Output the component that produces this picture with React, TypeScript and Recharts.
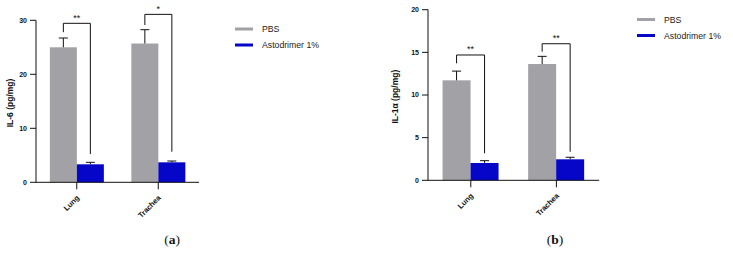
import React from 'react';
import { ComposedChart, Bar, XAxis, YAxis } from 'recharts';

const categories = ['Lung', 'Trachea'];
const seriesNames = ['PBS', 'Astodrimer 1%'];

const il6Pbs = [25.0, 25.7];
const il6PbsErr = [1.72, 2.56];
const il6Ast = [3.33, 3.7];
const il6AstErr = [0.37, 0.24];
const il6BracketTop = [29.44, 31.1];
const il6BracketLeft = [27.8, 29.13];
const il6BracketRight = [5.24, 5.67];
const il6Stars = ['**', '*'];
const il6Ticks = [0, 10, 20, 30];

const il1Pbs = [11.72, 13.63];
const il1PbsErr = [1.08, 0.9];
const il1Ast = [2.03, 2.46];
const il1AstErr = [0.27, 0.24];
const il1BracketTop = [14.69, 16.01];
const il1BracketLeft = [13.72, 15.08];
const il1BracketRight = [3.17, 3.35];
const il1Stars = ['**', '**'];
const il1Ticks = [0, 5, 10, 15, 20];

const GRAY = '#A2A2A6';
const BLUE = '#0606C8';
const FONT = '"Liberation Sans", Arial, sans-serif';

function buildData(pbs, pbsErr, ast, astErr, top, left, right, stars) {
  return categories.map((c, i) => ({
    name: c,
    pbs: pbs[i],
    pbsErr: pbsErr[i],
    ast: ast[i],
    astErr: astErr[i],
    bTop: top[i],
    bLeft: left[i],
    bRight: right[i],
    star: stars[i],
  }));
}

const dataA = buildData(il6Pbs, il6PbsErr, il6Ast, il6AstErr, il6BracketTop, il6BracketLeft, il6BracketRight, il6Stars);
const dataB = buildData(il1Pbs, il1PbsErr, il1Ast, il1AstErr, il1BracketTop, il1BracketLeft, il1BracketRight, il1Stars);

function makeShape(valKey, errKey, withBracket) {
  return (props) => {
    const { x, y, width, height, fill, payload } = props;
    const v = payload[valKey];
    const scale = v ? height / v : 0;
    const y0 = y + height;
    const py = (val) => y0 - val * scale;
    const cx = x + width / 2;
    const errTop = py(v + payload[errKey]);
    const els = [
      <rect key="r" x={x} y={y} width={width} height={height} fill={fill} />,
      <line key="e" x1={cx} x2={cx} y1={y} y2={errTop} stroke="#111" strokeWidth={1} />,
      <line key="c" x1={cx - 4.5} x2={cx + 4.5} y1={errTop} y2={errTop} stroke="#111" strokeWidth={1} />,
    ];
    if (withBracket) {
      const lx = x - width / 2;
      const rx = cx;
      const t = py(payload.bTop);
      els.push(
        <polyline
          key="b"
          points={`${lx},${py(payload.bLeft)} ${lx},${t} ${rx},${t} ${rx},${py(payload.bRight)}`}
          fill="none"
          stroke="#111"
          strokeWidth={1}
        />,
        <text key="s" x={(lx + rx) / 2} y={t - 2.5} textAnchor="middle" fontSize={9} fontFamily={FONT} fill="#111">
          {payload.star}
        </text>
      );
    }
    return <g>{els}</g>;
  };
}

const XTick = (props) => {
  const { x, y, payload } = props;
  const ax = x + 3;
  const ay = y + 9;
  return (
    <text x={ax} y={ay} transform={`rotate(-45, ${ax}, ${ay})`} textAnchor="end" fontSize={7.5} fontWeight="bold" fontFamily={FONT} fill="#111">
      {payload.value}
    </text>
  );
};

function Panel({ data, ticks, max, width, height, margin }) {
  return (
    <ComposedChart width={width} height={height} data={data} margin={margin} barCategoryGap="17%" barGap={0}>
      <XAxis
        dataKey="name"
        height={40}
        tickSize={7}
        tickMargin={0}
        tickLine={{ stroke: '#111' }}
        axisLine={{ stroke: '#111' }}
        tick={<XTick />}
        interval={0}
      />
      <YAxis
        width={36}
        domain={[0, max]}
        ticks={ticks}
        tickSize={6}
        tickMargin={3}
        tickLine={{ stroke: '#111' }}
        axisLine={{ stroke: '#111' }}
        tick={{ fontSize: 7, fontWeight: 'bold', fill: '#111', fontFamily: FONT }}
        interval={0}
      />
      <Bar dataKey="pbs" fill={GRAY} isAnimationActive={false} shape={makeShape('pbs', 'pbsErr', false)} />
      <Bar dataKey="ast" fill={BLUE} isAnimationActive={false} shape={makeShape('ast', 'astErr', true)} />
    </ComposedChart>
  );
}

function Legend({ x, y }) {
  const colors = [GRAY, BLUE];
  return (
    <g>
      {seriesNames.map((n, i) => (
        <g key={n}>
          <rect x={x} y={y + i * 16 - 1.5} width={18} height={3} fill={colors[i]} />
          <text x={x + 27} y={y + i * 16 + 3} fontSize={8.7} fontFamily={FONT} fill="#222">
            {n}
          </text>
        </g>
      ))}
    </g>
  );
}

export default function App() {
  return (
    <div style={{ position: 'absolute', left: 0, top: 0, width: 733, height: 253, background: '#fff' }}>
      <div style={{ position: 'absolute', left: 0, top: 0 }}>
        <Panel data={dataA} ticks={il6Ticks} max={30} width={200} height={253} margin={{ top: 20.3, right: 1, bottom: 30.7, left: 0 }} />
      </div>
      <div style={{ position: 'absolute', left: 391.5, top: 0 }}>
        <Panel data={dataB} ticks={il1Ticks} max={20} width={208} height={253} margin={{ top: 9.7, right: 0.8, bottom: 32.7, left: 0 }} />
      </div>
      <svg width={733} height={253} style={{ position: 'absolute', left: 0, top: 0, pointerEvents: 'none' }}>
        <text transform="translate(13,103) rotate(-90)" textAnchor="middle" fontSize={8.5} fontWeight="bold" fontFamily={FONT} fill="#111">
          IL-6 (pg/mg)
        </text>
        <text transform="translate(398,96.7) rotate(-90)" textAnchor="middle" fontSize={8.5} fontWeight="bold" fontFamily={FONT} fill="#111">
          IL-1α (pg/mg)
        </text>
        <Legend x={235} y={29} />
        <Legend x={637} y={19.5} />
        <text x={172} y={244} textAnchor="middle" fontSize={13.5} fontFamily='"Liberation Serif", serif' fill="#111">
          (<tspan fontWeight="bold">a</tspan>)
        </text>
        <text x={555} y={244} textAnchor="middle" fontSize={13.5} fontFamily='"Liberation Serif", serif' fill="#111">
          (<tspan fontWeight="bold">b</tspan>)
        </text>
      </svg>
    </div>
  );
}
